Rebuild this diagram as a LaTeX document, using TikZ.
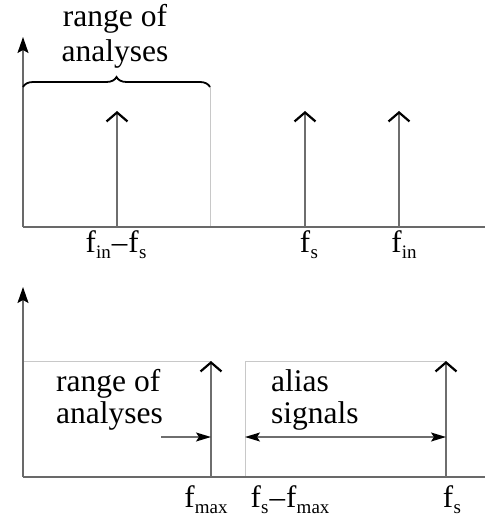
\documentclass[tikz,border=0pt]{standalone}
\usepackage{fontspec}
\setmainfont{Liberation Serif}
\usetikzlibrary{arrows.meta,decorations.pathreplacing}
\definecolor{axisgray}{RGB}{105,105,105}
\definecolor{linegray}{RGB}{110,110,110}
\definecolor{boxgray}{RGB}{200,200,200}
\newcommand{\fsubx}[1]{f\kern0.3pt\raisebox{-6pt}{\fontsize{19}{19}\selectfont #1}}
\begin{document}
\begin{tikzpicture}[x=1pt,y=-1pt,
  axis/.style={draw=axisgray, line width=1.6pt, -{Stealth[length=16pt,width=11pt,inset=3pt,color=black]}},
  impulse/.style={draw=linegray, line width=1.4pt, -{Straight Barb[length=9pt,width=21pt,line width=2.2pt,color=black]}},
  thinline/.style={draw=boxgray, line width=0.9pt},
  span/.style={draw=linegray, line width=1.3pt},
  shead/.style={},
  lbl/.style={font=\fontsize{31}{33}\selectfont, anchor=base, inner sep=0pt},
  txt/.style={font=\fontsize{31.5}{34}\selectfont, inner sep=0pt}
]
\useasboundingbox (0,0) rectangle (485,516);

% ---------- top panel ----------
\coordinate (O1) at (23,227);
\coordinate (Y1) at (23,37);
\coordinate (X1) at (485,227);
\coordinate (B1) at (23,87);
\coordinate (B2) at (210,87);
\coordinate (B2b) at (210,227);
\coordinate (I1b) at (117,227);
\coordinate (I1t) at (117,111);
\coordinate (I2b) at (305,227);
\coordinate (I2t) at (305,111);
\coordinate (I3b) at (399,227);
\coordinate (I3t) at (399,111);

\draw[thinline] (B2) -- (B2b);
\draw[axis] (O1) -- (Y1);
\draw[draw=axisgray, line width=1.6pt] (O1) -- (X1);
\draw[line width=1.8pt, decorate, decoration={brace, amplitude=10pt}] (B1) -- (B2);
\draw[impulse] (I1b) -- (I1t);
\draw[impulse] (I2b) -- (I2t);
\draw[impulse] (I3b) -- (I3t);

\node[txt, anchor=base] (t1a) at (115,27) {range of};
\node[txt, anchor=base] (t1b) at (115,62) {analyses};

\node[lbl] (l1) at (116,252) {\fsubx{in}\kern1pt–\kern1pt\fsubx{s}};
\node[lbl] (l2) at (309,252) {\fsubx{s}};
\node[lbl] (l3) at (404,252) {\fsubx{in}};

% ---------- bottom panel ----------
\coordinate (O2) at (23,477);
\coordinate (Y2) at (23,287);
\coordinate (X2) at (485,477);
\coordinate (H1) at (23,361);
\coordinate (H2) at (211,361);
\coordinate (A1b) at (211,477);
\coordinate (A1t) at (211,361);
\coordinate (A2b) at (446,477);
\coordinate (A2t) at (446,361);
\coordinate (R1) at (245,477);
\coordinate (R2) at (245,361);
\coordinate (R3) at (446,361);
\coordinate (P1) at (161,437);
\coordinate (P2) at (211,437);
\coordinate (Q1) at (245,437);
\coordinate (Q2) at (446,437);

\draw[thinline] (H1) -- (H2);
\draw[thinline] (R1) -- (R2) -- (R3);
\draw[axis] (O2) -- (Y2);
\draw[draw=axisgray, line width=1.6pt] (O2) -- (X2);
\draw[impulse] (A1b) -- (A1t);
\draw[impulse] (A2b) -- (A2t);
\draw[span, -{Stealth[length=15pt,width=9pt,inset=3pt,color=black]}] (P1) -- (P2);
\draw[span, {Stealth[length=15pt,width=9pt,inset=3pt,color=black]}-{Stealth[length=15pt,width=9pt,inset=3pt,color=black]}] (Q1) -- (Q2);

\node[txt, anchor=base west] (t2a) at (56,391) {range of};
\node[txt, anchor=base west] (t2b) at (56,423) {analyses};
\node[txt, anchor=base west] (t3a) at (271,391) {alias};
\node[txt, anchor=base west] (t3b) at (271,423) {signals};

\node[lbl] (l4) at (206,507) {\fsubx{max}};
\node[lbl] (l5) at (290,507) {\fsubx{s}\kern1pt–\kern1pt\fsubx{max}};
\node[lbl] (l6) at (452,507) {\fsubx{s}};
\end{tikzpicture}
\end{document}
